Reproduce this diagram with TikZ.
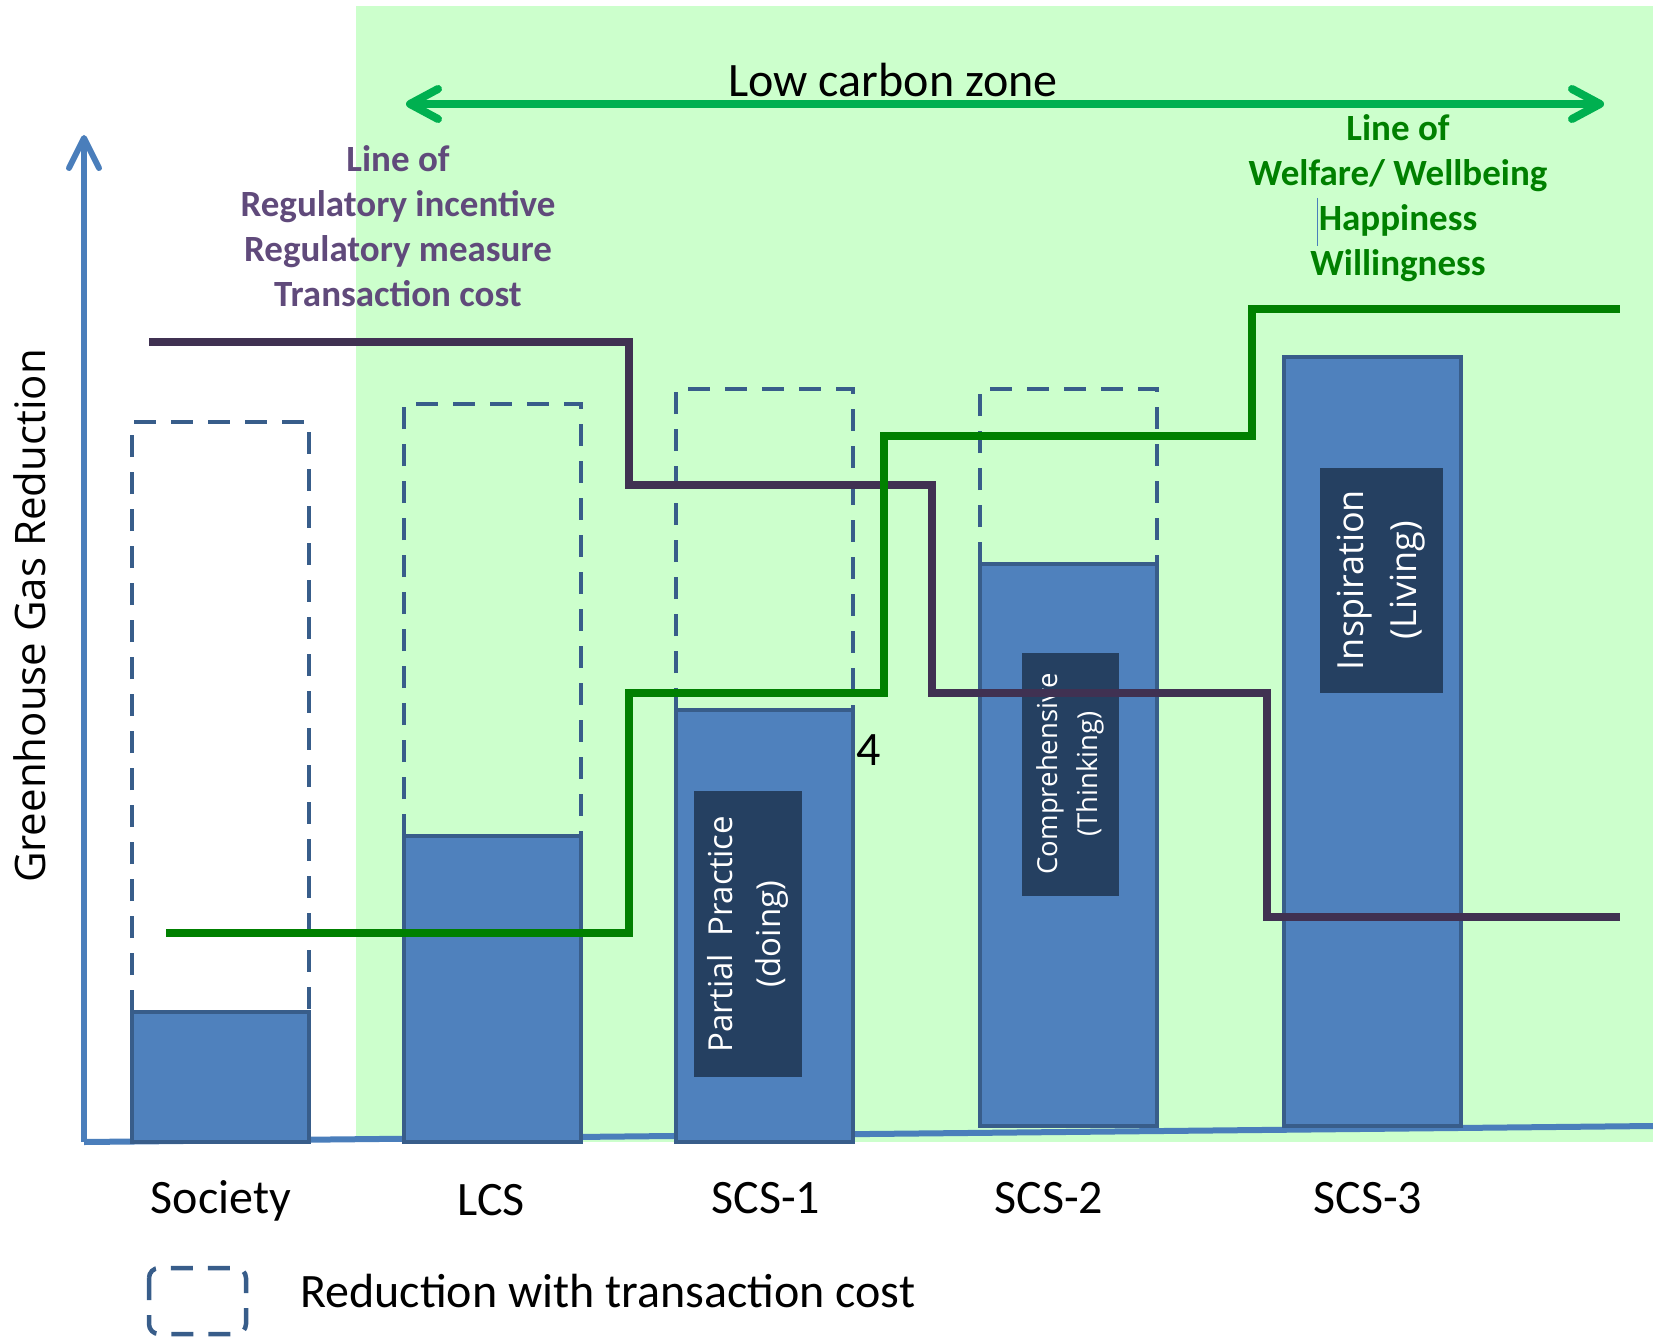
\documentclass[tikz,border=0pt]{standalone}
\usepackage{fontspec}
\setmainfont{Carlito}
\newfontfamily\opensans{Open Sans}
\usetikzlibrary{arrows.meta}
\definecolor{barfill}{HTML}{4F81BD}
\definecolor{barline}{HTML}{385D8A}
\definecolor{tagdark}{HTML}{254061}
\definecolor{zonebg}{HTML}{CCFFCC}
\definecolor{zonegreen}{HTML}{00B050}
\definecolor{regline}{HTML}{403152}
\definecolor{regtext}{HTML}{604A7B}
\definecolor{welgreen}{HTML}{008000}
\definecolor{axisblue}{HTML}{4A7EBB}
\tikzset{
  bar/.style={fill=barfill,draw=barline,line width=4pt},
  tcbox/.style={draw=barline,line width=4.5pt,dash pattern=on 22pt off 15pt},
  tag/.style={fill=tagdark,text=white,align=center,rotate=90,inner sep=0pt},
  lbl/.style={font=\fontsize{48}{58}\selectfont,anchor=base,inner sep=0pt},
  linetext/.style={font=\bfseries\fontsize{37}{45}\selectfont,align=center,inner sep=0pt},
  axis/.style={axisblue,line width=6pt},
  stepline/.style={line width=7.5pt}
}
\begin{document}
\begin{tikzpicture}[x=1pt,y=-1pt]
\useasboundingbox (0,0) rectangle (1653,1337);
\fill[zonebg] (356,6) rectangle (1653,1142);

\coordinate (o)at(84,1142);
\coordinate (ytop)at(84,135);
\coordinate (xend)at(1653,1126);
\draw[axis,-{Straight Barb[length=30pt,width=30pt,round]}] (o) -- (ytop);
\draw[axis] (o) -- (xend);

\draw[tcbox] (132,1012) rectangle (309,422);
\draw[tcbox] (404,836) rectangle (581,404);
\draw[tcbox] (676,710) rectangle (853,389);
\draw[tcbox] (980,564) rectangle (1157,389);

\draw[bar] (132,1142) rectangle (309,1012);
\draw[bar] (404,1142) rectangle (581,836);
\draw[bar] (676,1142) rectangle (853,710);
\draw[bar] (980,1126) rectangle (1157,564);
\draw[bar] (1284,1126) rectangle (1461,357);

\node[tag,font=\opensans\fontsize{33}{48}\selectfont,minimum width=286pt,minimum height=108pt] (doing)at(748,934) {Partial~ Practice\\(doing)};
\node[tag,font=\opensans\fontsize{27.5}{40}\selectfont,minimum width=243pt,minimum height=97pt] (thinking)at(1070,774) {Comprehensive\\(Thinking)};
\node[tag,font=\opensans\fontsize{36}{53}\selectfont,minimum width=225pt,minimum height=123pt] (living)at(1381,580) {Inspiration\\(Living)};
\node[lbl,anchor=base west] (four)at(856,765) {4};

\draw[stepline,regline] (149,342) -| (629,485) -| (932,693) -| (1267,917) -- (1620,917);
\draw[stepline,welgreen] (166,933) -| (629,693) -| (884,436) -| (1252,309) -- (1620,309);

\coordinate (zl)at(406,104);
\coordinate (zr)at(1604,104);
\draw[zonegreen,line width=8pt,{Straight Barb[length=28pt,width=30pt,round]}-{Straight Barb[length=28pt,width=30pt,round]}] (zl) -- (zr);
\node[lbl] (zone)at(893,97) {Low carbon zone};

\node[linetext,text=regtext] (reg)at(398,226) {Line of\\Regulatory incentive\\Regulatory measure\\Transaction cost};
\node[linetext,text=welgreen] (wel)at(1398,198) {Line of\\Welfare/ Wellbeing\\Happiness\\Willingness};
\draw[axisblue,line width=1pt] (1317,198) -- (1317,246);

\node[font=\opensans\fontsize{42}{50}\selectfont,rotate=90] (ylabel)at(30,616) {Greenhouse Gas Reduction};

\node[lbl] (society)at(221,1213) {Society};
\node[lbl] (lcs)at(491,1215) {LCS};
\node[lbl] (scs1)at(766,1213) {SCS-1};
\node[lbl] (scs2)at(1049,1213) {SCS-2};
\node[lbl] (scs3)at(1368,1213) {SCS-3};

\draw[tcbox,rounded corners=10pt] (149,1268) rectangle (246,1334);
\node[lbl,anchor=base west] (legend)at(300,1307) {Reduction with transaction cost};
\end{tikzpicture}
\end{document}
